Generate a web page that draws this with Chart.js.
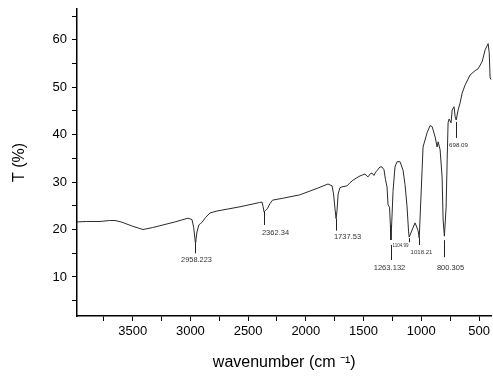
<!DOCTYPE html>
<html>
<head>
<meta charset="utf-8">
<script src="https://cdn.jsdelivr.net/npm/chart.js@4.4.1/dist/chart.umd.min.js"></script>
<style>
  html, body { margin: 0; padding: 0; background: #fff; }
  #wrap { width: 493px; height: 376px; }
</style>
</head>
<body>
<div id="wrap"><canvas id="ftir"></canvas></div>
<script>
// FTIR spectrum (wavenumber in cm-1, T in %)
const wavenumbers = [
  3983, 3900, 3783, 3700, 3653, 3600, 3567, 3500, 3411, 3330, 3264, 3134, 3021, 2986, 2972, 2960, 2958, 2952, 2943, 2926,
  2910, 2900, 2870, 2830, 2770, 2570, 2400, 2380, 2370, 2362, 2350, 2331, 2310, 2288, 2200, 2054, 1900, 1808, 1773, 1760,
  1748, 1738, 1730, 1720, 1705, 1687, 1644, 1620, 1592, 1560, 1531, 1510, 1488, 1462, 1440, 1427, 1410, 1396, 1384, 1358,
  1341, 1323, 1310, 1297, 1288, 1275, 1268, 1263, 1255, 1245, 1228, 1210, 1184, 1158, 1141, 1124, 1110, 1105, 1080, 1054,
  1028, 1018, 993, 985, 950, 924, 906, 880, 863, 854, 837, 820, 811, 800, 785, 776, 768, 759, 742, 733,
  716, 707, 698, 681, 664, 646, 620, 577, 534, 508, 473, 447, 421, 412, 404, 395
];
const transmittance = [
  21.6, 21.7, 21.7, 21.9, 21.9, 21.6, 21.3, 20.7, 20.0, 20.4, 20.8, 21.6, 22.4, 22.1, 20.5, 18.0, 17.3, 17.8, 19.5, 21.0,
  21.3, 21.5, 22.5, 23.5, 23.9, 24.8, 25.7, 25.8, 24.8, 23.7, 24.0, 24.5, 25.5, 26.2, 26.6, 27.3, 28.7, 29.6, 29.2, 27.5,
  24.5, 22.3, 24.0, 27.5, 28.8, 29.0, 29.2, 29.8, 30.4, 30.9, 31.3, 31.5, 31.7, 31.1, 31.8, 31.9, 31.4, 32.1, 32.4, 33.2,
  33.2, 32.6, 30.5, 29.0, 25.2, 24.7, 21.0, 17.8, 22.0, 28.0, 33.2, 34.3, 34.3, 32.5, 29.5, 25.0, 19.5, 18.4, 19.9, 21.4,
  19.8, 18.2, 32.6, 37.4, 40.4, 41.9, 41.7, 39.5, 37.4, 38.5, 36.8, 31.1, 22.0, 18.6, 24.7, 34.7, 42.5, 43.3, 42.5, 45.2,
  45.9, 43.8, 43.1, 45.2, 46.7, 48.8, 50.5, 52.6, 53.5, 53.9, 55.4, 57.9, 59.2, 57.3, 52.0, 51.6
];

const peakWavenumbers = [2958, 2362, 1738, 1263, 1105, 1018, 800, 698];
const peakLabels = ['2958.223', '2362.34', '1737.53', '1263.132', '1104.99', '1018.21', '800.305', '698.09'];

const xTicks = [3750, 3500, 3250, 3000, 2750, 2500, 2250, 2000, 1750, 1500, 1250, 1000, 750, 500];
const xTickLabels = ['', '3500', '', '3000', '', '2500', '', '2000', '', '1500', '', '1000', '', '500'];
const yTicks = [5, 10, 15, 20, 25, 30, 35, 40, 45, 50, 55, 60, 65];
const yTickLabels = ['', '10', '', '20', '', '30', '', '40', '', '50', '', '60', ''];

// how each peak marker is drawn (pixels): gap under the dip, line length, label shift, font size
const peakMarkStyle = [
  { gap: 0, len: 11, dx: 1, dy: 7, size: 7.4 },
  { gap: 0, len: 13, dx: 11, dy: 8, size: 7.5 },
  { gap: 0, len: 12, dx: 11, dy: 6, size: 7.5 },
  { gap: 5, len: 15, dx: -2, dy: 8, size: 7.6 },
  { gap: 1, len: 4, dx: -9, dy: 4, size: 4.5 },
  { gap: 0, len: 7, dx: 2, dy: 7, size: 6.1 },
  { gap: 4, len: 17, dx: 6, dy: 11, size: 7.5 },
  { gap: 2, len: 16, dx: 2, dy: 7, size: 6.2 }
];

const FONT = '"Liberation Sans", Arial, sans-serif';

const peakMarks = {
  id: 'peakMarks',
  afterDatasetsDraw(chart) {
    const { ctx, scales: { x, y } } = chart;
    ctx.save();
    peakWavenumbers.forEach((wn, i) => {
      const st = peakMarkStyle[i];
      const idx = wavenumbers.indexOf(wn);
      const px = Math.round(x.getPixelForValue(wn)) + 0.5;
      const py = y.getPixelForValue(transmittance[idx]);
      const y0 = py + st.gap;
      const y1 = y0 + st.len;
      ctx.strokeStyle = '#222';
      ctx.lineWidth = 1;
      ctx.beginPath();
      ctx.moveTo(px, y0);
      ctx.lineTo(px, y1);
      ctx.stroke();
      ctx.fillStyle = '#333';
      ctx.font = `${st.size}px ${FONT}`;
      ctx.textAlign = 'center';
      ctx.textBaseline = 'middle';
      ctx.fillText(peakLabels[i], px + st.dx, y1 + st.dy);
    });
    ctx.restore();
  }
};

const axisGrid = {
  display: true,
  drawOnChartArea: false,
  drawTicks: true,
  tickLength: 5,
  tickColor: '#000',
  tickWidth: 1
};

new Chart(document.getElementById('ftir'), {
  type: 'line',
  data: {
    datasets: [{
      data: wavenumbers.map((w, i) => ({ x: w, y: transmittance[i] })),
      borderColor: '#2a2a2a',
      borderWidth: 1,
      pointRadius: 0,
      tension: 0,
      fill: false
    }]
  },
  options: {
    responsive: true,
    maintainAspectRatio: false,
    animation: false,
    devicePixelRatio: 1,
    layout: { padding: { top: 9, right: 1.5, bottom: 0, left: 0 } },
    plugins: { legend: { display: false }, tooltip: { enabled: false } },
    scales: {
      x: {
        type: 'linear',
        reverse: true,
        min: 392,
        max: 3982,
        afterBuildTicks: s => { s.ticks = xTicks.map(v => ({ value: v })); },
        afterFit: s => { s.height = 60; s.paddingLeft = 0; s.paddingRight = 0; },
        ticks: {
          autoSkip: false,
          maxRotation: 0,
          padding: 3,
          color: '#000',
          font: { family: FONT, size: 13 },
          callback: v => xTickLabels[xTicks.indexOf(v)]
        },
        grid: axisGrid,
        border: { display: true, color: '#000', width: 1.5 },
        title: {
          display: true,
          text: 'wavenumber (cm \u207B\u00B9)',
          color: '#000',
          font: { family: FONT, size: 16 },
          padding: { top: 0, bottom: 3.5 }
        }
      },
      y: {
        min: 1.77,
        max: 66.5,
        afterBuildTicks: s => { s.ticks = yTicks.map(v => ({ value: v })); },
        afterFit: s => { s.width = 77; s.paddingTop = 0; s.paddingBottom = 0; },
        ticks: {
          padding: 5,
          color: '#000',
          font: { family: FONT, size: 13 },
          callback: v => yTickLabels[yTicks.indexOf(v)]
        },
        grid: axisGrid,
        border: { display: true, color: '#000', width: 1.5 },
        title: {
          display: true,
          text: 'T (%)',
          color: '#000',
          font: { family: FONT, size: 16 },
          padding: { top: 10, bottom: 0 }
        }
      }
    }
  },
  plugins: [peakMarks]
});
</script>
</body>
</html>
